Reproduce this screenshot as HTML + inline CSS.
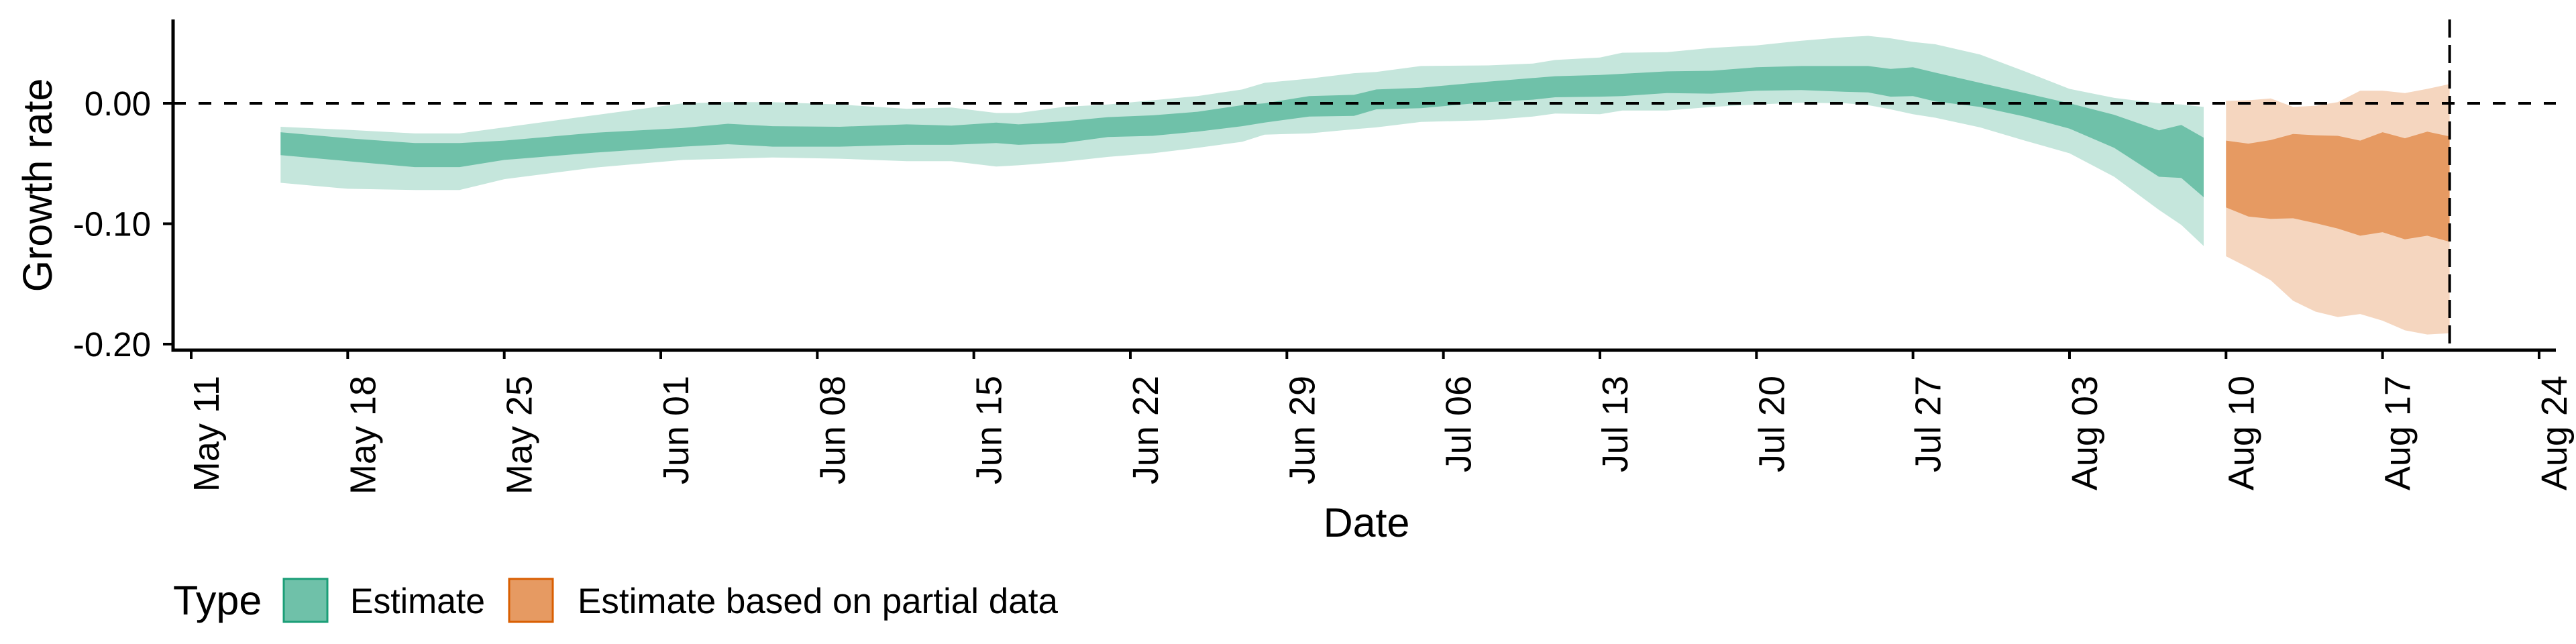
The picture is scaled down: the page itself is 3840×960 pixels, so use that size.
<!DOCTYPE html>
<html><head><meta charset="utf-8">
<style>
html,body{margin:0;padding:0;background:#fff;}
svg{display:block;font-family:"Liberation Sans",Arial,sans-serif;}
</style></head>
<body>
<svg id="chart" width="3840" height="960" viewBox="0 0 3840 960" xmlns="http://www.w3.org/2000/svg">
<g id="bands"></g>
<g id="axes"></g>
<text x="0" y="0" font-size="61" text-anchor="middle" transform="translate(77,276) rotate(-90)">Growth rate</text>
<text x="2037" y="800" font-size="61" text-anchor="middle">Date</text>
<g>
<text x="258" y="916" font-size="61">Type</text>
<rect x="423" y="863" width="65" height="64" fill="#6fc1a9" stroke="#1b9e77" stroke-width="3"/>
<text x="522" y="914" font-size="53" textLength="201" lengthAdjust="spacingAndGlyphs">Estimate</text>
<rect x="759" y="863" width="65" height="64" fill="#e69a62" stroke="#d95f02" stroke-width="3"/>
<text x="861" y="914" font-size="53">Estimate based on partial data</text>
</g>
</svg>
<script>
// days since May 11
const estDays = [4,7,10,12,14,18,22,24,26,29,32,34,36,37,39,41,43,45,47,48,50,52,53,55,58,60,61,63,64,66,68,70,72,74,75,76,77,78,80,82,84,86,88,89,90];
const estHi90 = [-1.95,-2.2,-2.5,-2.5,-2.0,-1.0,0,0.1,0.1,-0.1,-0.45,-0.35,-0.8,-0.8,-0.3,-0.1,0.25,0.6,1.15,1.7,2.05,2.5,2.6,3.1,3.15,3.3,3.6,3.8,4.2,4.25,4.6,4.8,5.2,5.5,5.6,5.4,5.1,4.9,4.05,2.65,1.2,0.45,0,-0.1,-0.3];
const estHi50 = [-2.4,-2.9,-3.3,-3.3,-3.1,-2.45,-2.05,-1.7,-1.9,-1.95,-1.75,-1.85,-1.6,-1.75,-1.5,-1.15,-1.0,-0.7,-0.15,0.0,0.6,0.7,1.15,1.3,1.8,2.1,2.25,2.35,2.45,2.65,2.7,3.0,3.1,3.1,3.1,2.85,3.0,2.55,1.7,0.85,0,-0.95,-2.25,-1.8,-2.85];
const estLo50 = [-4.3,-4.8,-5.3,-5.3,-4.7,-4.1,-3.6,-3.4,-3.6,-3.6,-3.45,-3.45,-3.3,-3.45,-3.3,-2.8,-2.7,-2.35,-1.9,-1.6,-1.1,-1.05,-0.5,-0.4,0.1,0.3,0.5,0.55,0.6,0.85,0.8,1.05,1.1,0.95,0.9,0.55,0.6,0.15,-0.3,-1.1,-2.1,-3.7,-6.1,-6.2,-7.8];
const estLo90 = [-6.6,-7.1,-7.2,-7.2,-6.3,-5.35,-4.7,-4.6,-4.5,-4.6,-4.8,-4.8,-5.25,-5.15,-4.85,-4.45,-4.15,-3.7,-3.2,-2.6,-2.5,-2.15,-2.0,-1.55,-1.4,-1.1,-0.85,-0.9,-0.6,-0.6,-0.3,-0.1,0.05,0,-0.15,-0.5,-0.9,-1.2,-2.0,-3.1,-4.15,-6.1,-8.85,-10.1,-11.85];
const parDays = [91,92,93,94,95,96,97,98,99,100,101];
const parHi90 = [0.2,0.25,0.4,-0.3,-0.2,0.1,1.05,1.05,0.85,1.2,1.6];
const parHi50 = [-3.1,-3.35,-3.05,-2.55,-2.65,-2.7,-3.1,-2.4,-2.9,-2.35,-2.75];
const parLo50 = [-8.65,-9.4,-9.6,-9.55,-9.95,-10.4,-11.0,-10.7,-11.3,-11.0,-11.5];
const parLo90 = [-12.7,-13.65,-14.7,-16.4,-17.3,-17.75,-17.5,-18.05,-18.85,-19.2,-19.1];
const xTickDays = [0,7,14,21,28,35,42,49,56,63,70,77,84,91,98,105];
const xTickLabels = ["May 11","May 18","May 25","Jun 01","Jun 08","Jun 15","Jun 22","Jun 29","Jul 06","Jul 13","Jul 20","Jul 27","Aug 03","Aug 10","Aug 17","Aug 24"];
const yTickVals = [0,-10,-20];
const yTickLabels = ["0.00","-0.10","-0.20"];
const nowcastDay = 101;

const NS="http://www.w3.org/2000/svg";
const X0=258, X1=3810, Y0=29, YB=522;
function xs(d){return 285 + d*33.333;}
function ys(v){return 154 - v*17.95;}
function mk(tag,attrs,parent){const e=document.createElementNS(NS,tag);for(const k in attrs)e.setAttribute(k,attrs[k]);parent.appendChild(e);return e;}
const bands=document.getElementById('bands'), axes=document.getElementById('axes');
function band(days,hi,lo,fill,name){
  let d='M'+days.map((t,i)=>xs(t).toFixed(1)+','+ys(hi[i]).toFixed(1)).join('L');
  for(let i=days.length-1;i>=0;i--) d+='L'+xs(days[i]).toFixed(1)+','+ys(lo[i]).toFixed(1);
  const p=mk('path',{d:d+'Z',fill:fill},bands);
  
  
}
band(estDays,estHi90,estLo90,'#c5e6dc','estimate-90-band');
band(estDays,estHi50,estLo50,'#6fc1a9','estimate-50-band');
band(parDays,parHi90,parLo90,'#f5d6bf','partial-90-band');
band(parDays,parHi50,parLo50,'#e69a62','partial-50-band');

const hz=mk('line',{x1:X0,x2:X1,y1:ys(0),y2:ys(0),stroke:'#000','stroke-width':4,'stroke-dasharray':'19 19'},axes);


const vt=mk('line',{x1:xs(nowcastDay),x2:xs(nowcastDay),y1:Y0,y2:YB,stroke:'#000','stroke-width':4,'stroke-dasharray':'27 11'},axes);



const ya=mk('line',{x1:X0,x2:X0,y1:Y0,y2:YB+2.5,stroke:'#000','stroke-width':5},axes);


const xa=mk('line',{x1:X0-2.5,x2:X1,y1:YB,y2:YB,stroke:'#000','stroke-width':5},axes);



yTickVals.forEach((v,i)=>{
  const t=mk('line',{x1:X0-15,x2:X0,y1:ys(v),y2:ys(v),stroke:'#000','stroke-width':4},axes);
  
  
  const l=mk('text',{x:225,y:ys(v)+18,'font-size':51,'text-anchor':'end'},axes);
  l.textContent=yTickLabels[i];
  
  
});
xTickDays.forEach((d,i)=>{
  const x=xs(d);
  const t=mk('line',{x1:x,x2:x,y1:YB,y2:YB+13,stroke:'#000','stroke-width':4},axes);
  
  
  const l=mk('text',{x:0,y:0,'font-size':54,'text-anchor':'end',transform:'translate('+(x+41)+',560) rotate(-90)'},axes);
  l.textContent=xTickLabels[i];
  
  
});
</script>
</body></html>
